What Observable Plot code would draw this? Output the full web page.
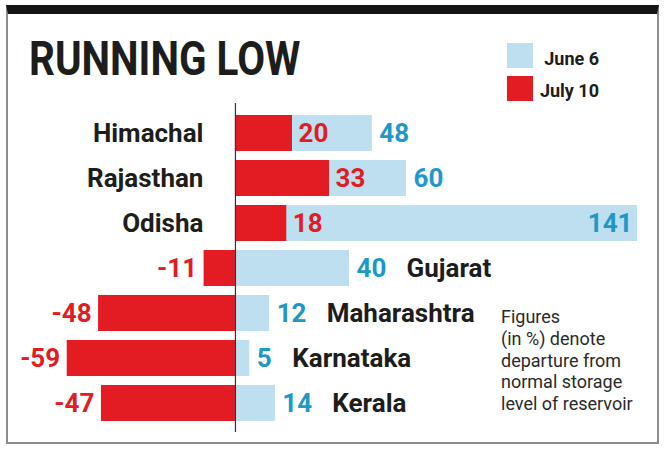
<!DOCTYPE html>
<html>
<head>
<meta charset="utf-8">
<script src="https://cdn.jsdelivr.net/npm/d3@7"></script>
<script src="https://cdn.jsdelivr.net/npm/@observablehq/plot@0.6"></script>
<style>
  html, body { margin: 0; padding: 0; background: #fff; }
  body { width: 665px; height: 451px; position: relative; overflow: hidden; font-family: Roboto, "Liberation Sans", sans-serif; }
  #frame { position: absolute; left: 6px; top: 5px; width: 653px; height: 439px; box-sizing: border-box;
           border: 2px solid #8c8c8c; border-top: 9px solid #151515; }
  .t { position: absolute; white-space: nowrap; }
  #title { left: 29px; top: 33.8px; font-size: 49px; line-height: 49px; font-weight: 700; color: #1d1d1b;
           transform: scaleX(0.825); transform-origin: left top; }
  .sw { position: absolute; left: 507px; width: 26px; }
  .lg { font-size: 18px; line-height: 18px; font-weight: 700; color: #1d1d1b; right: 66px; text-align: right; }
  #note { left: 501px; top: 306px; font-size: 18px; line-height: 21.75px; color: #2a2a2a; }
  #chart { position: absolute; left: 0; top: 100px; }
</style>
</head>
<body>
<div id="frame"></div>
<div id="title" class="t">RUNNING LOW</div>
<div id="legend"></div>
<div id="note" class="t"></div>
<div id="chart"></div>
<script>
// ---- data ----
const states = ["Himachal", "Rajasthan", "Odisha", "Gujarat", "Maharashtra", "Karnataka", "Kerala"];
const june6 = [48, 60, 141, 40, 12, 5, 14];
const july10 = [20, 33, 18, -11, -48, -59, -47];
const seriesNames = ["June 6", "July 10"];
const seriesColors = ["#bddff0", "#e31b23"];
const noteLines = ["Figures", "(in %) denote", "departure from", "normal storage", "level of reservoir"];

const rows = states.map((s, i) => ({state: s, june: june6[i], july: july10[i]}));

const RED = "#e31b23", BLUE_TXT = "#1e98c8", INK = "#1d1d1b";

// legend
const legend = document.getElementById("legend");
const swTop = [43, 76], txtTop = [49.85, 81.85];
seriesNames.forEach((n, i) => {
  const sw = document.createElement("div");
  sw.className = "sw";
  sw.style.top = swTop[i] + "px";
  sw.style.height = "25px";
  sw.style.background = seriesColors[i];
  legend.appendChild(sw);
  const t = document.createElement("div");
  t.className = "t lg";
  t.style.top = txtTop[i] + "px";
  t.textContent = n;
  legend.appendChild(t);
});

// note
document.getElementById("note").innerHTML = noteLines.join("<br>");

const fontSize = 26;
const chart = Plot.plot({
  width: 665,
  height: 335,
  marginTop: 3,
  marginBottom: 3,
  marginLeft: 0,
  marginRight: 28,
  x: {domain: [-82.4, 141], range: [0, 637], axis: null},
  y: {domain: states, range: [12, 323], paddingInner: 0.21, paddingOuter: 0, axis: null},
  style: {background: "transparent", fontFamily: "Roboto, sans-serif", overflow: "visible"},
  marks: [
    Plot.barX(rows, {y: "state", x1: 0, x2: "june", fill: seriesColors[0]}),
    Plot.barX(rows, {y: "state", x1: 0, x2: "july", fill: seriesColors[1]}),
    Plot.ruleX([0], {stroke: "#333", strokeWidth: 1.2}),
    // July 10 values
    Plot.text(rows.filter(d => d.july >= 0), {y: "state", x: "july", text: d => String(d.july),
      textAnchor: "start", dx: 6, fill: RED, fontSize, fontWeight: "bold"}),
    Plot.text(rows.filter(d => d.july < 0), {y: "state", x: "july", text: d => String(d.july),
      textAnchor: "end", dx: -7, fill: RED, fontSize, fontWeight: "bold"}),
    // June 6 values
    Plot.text(rows.filter(d => d.june <= 120), {y: "state", x: "june", text: d => String(d.june),
      textAnchor: "start", dx: 7, fill: BLUE_TXT, fontSize, fontWeight: "bold"}),
    Plot.text(rows.filter(d => d.june > 120), {y: "state", x: "june", text: d => String(d.june),
      textAnchor: "end", dx: -5, fill: BLUE_TXT, fontSize, fontWeight: "bold"}),
    // state names
    Plot.text(rows.filter(d => d.july >= 0), {y: "state", x: 0, text: "state",
      textAnchor: "end", dx: -32, fill: INK, fontSize, fontWeight: "bold"}),
    ...rows.filter(d => d.july < 0).map(d => Plot.text([d], {y: "state", x: "june", text: "state",
      textAnchor: "start", dx: 28 + String(d.june).length * 14.5, fill: INK, fontSize, fontWeight: "bold"}))
  ]
});
document.getElementById("chart").appendChild(chart);
</script>
</body>
</html>
